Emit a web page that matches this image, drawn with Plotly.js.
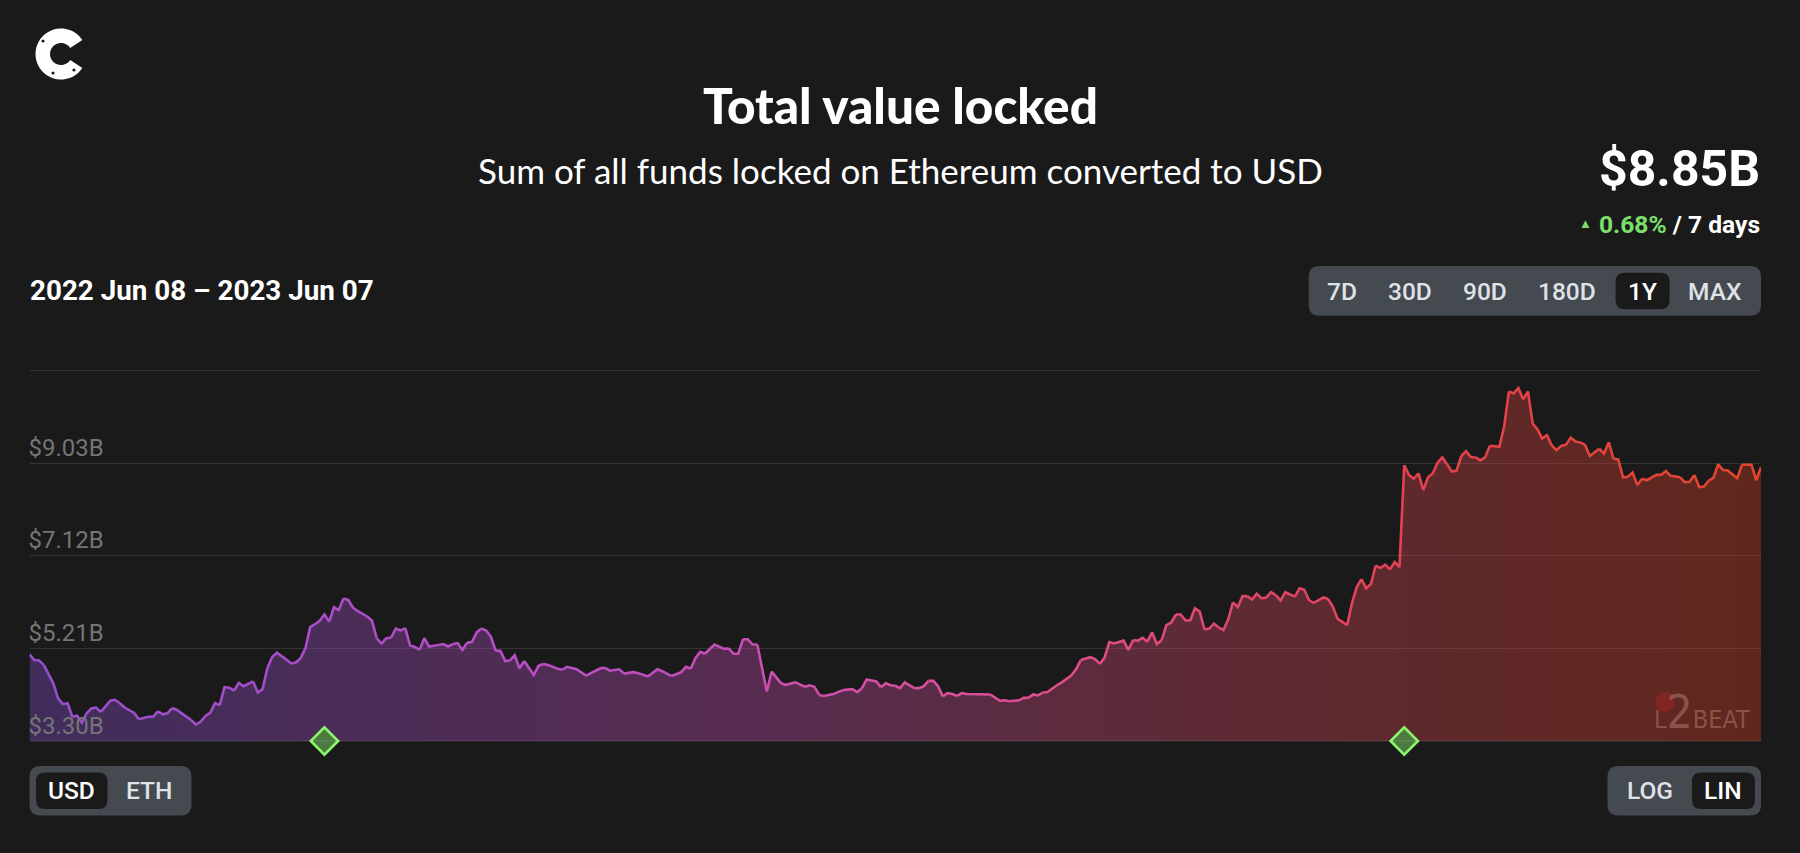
<!DOCTYPE html>
<html>
<head>
<meta charset="utf-8">
<script src="https://cdn.plot.ly/plotly-3.0.1.min.js"></script>
<style>html,body{margin:0;padding:0;background:#1a1a1a;overflow:hidden}#chart{width:1800px;height:853px}</style>
</head>
<body>
<div id="chart"></div>
<script>
// Days since 2022-06-08
const days = [0,1,2,3,4,5,6,7,8,9,10,11,12,13,14,15,17,18,19,20,22,23,25,26,27,28,29,30,31,32,34,35,36,37,38,39,40,41,42,43,44,45,47,48,49,50,51,52,54,55,56,57,58,59,60,61,62,63,64,65,66,67,68,69,71,72,73,74,75,76,77,78,79,80,81,82,83,84,86,87,88,89,90,91,92,93,94,95,96,97,98,99,100,101,102,103,104,106,107,108,109,111,112,113,115,117,119,
120,121,122,124,125,127,128,130,132,133,135,137,138,139,140,141,142,144,146,147,148,149,150,151,152,153,155,156,158,159,161,163,164,165,166,167,169,171,173,174,175,176,178,179,180,181,182,183,184,186,187,188,189,190,191,192,193,194,195,196,197,202,204,205,206,208,209,210,211,212,213,214,216,217,219,220,221,223,224,225,226,227,228,230,231,232,233,234,235,236,237,238,239,240,241,242,243,244,245,246,
247,248,249,250,251,252,253,254,255,256,257,258,259,260,261,262,263,264,266,267,268,269,270,272,273,274,275,277,278,279,280,281,282,283,284,285,286,287,288,289,290,291,292,293,294,295,296,297,298,299,300,301,302,303,304,305,306,307,309,310,311,312,313,314,315,316,317,318,319,320,321,322,323,324,325,326,327,328,330,331,332,333,334,335,336,337,338,339,340,342,343,344,345,347,348,349,350,351,352,353,354,355,356,357,359,360,362,363,364];
// Total value locked, $B
const tvl = [5.09,4.97,4.96,4.87,4.68,4.49,4.18,4.06,4.08,3.80,3.82,3.68,3.87,3.97,3.99,3.90,4.13,4.15,4.08,3.99,3.88,3.75,3.80,3.80,3.91,3.85,3.87,3.98,3.94,3.87,3.73,3.64,3.70,3.82,3.88,4.08,4.04,4.41,4.40,4.34,4.50,4.43,4.53,4.30,4.37,4.80,5.03,5.12,4.98,4.90,4.92,5.01,5.21,5.65,5.71,5.78,5.91,5.76,6.06,6.00,6.24,6.21,6.05,5.98,5.87,5.78,5.42,5.31,5.42,5.43,5.62,5.58,5.63,5.27,5.24,5.18,5.42,5.25,5.28,5.30,5.25,5.30,5.32,5.18,5.33,5.34,5.54,5.62,5.58,5.45,5.16,5.16,4.95,4.96,5.07,4.80,4.95,4.66,4.85,4.89,4.87,4.79,4.77,4.83,4.78,4.65,4.76,
4.80,4.81,4.75,4.78,4.69,4.72,4.70,4.63,4.78,4.74,4.64,4.72,4.83,4.79,5.01,5.14,5.10,5.29,5.20,5.21,5.10,5.10,5.40,5.40,5.29,5.29,4.32,4.73,4.49,4.46,4.51,4.42,4.45,4.42,4.25,4.23,4.27,4.35,4.37,4.31,4.39,4.57,4.53,4.41,4.49,4.45,4.44,4.39,4.51,4.39,4.39,4.43,4.54,4.54,4.43,4.22,4.29,4.27,4.23,4.29,4.27,4.26,4.13,4.14,4.12,4.14,4.19,4.19,4.26,4.24,4.30,4.31,4.45,4.51,4.65,4.78,4.97,5.03,4.99,4.89,5.02,5.34,5.31,5.37,5.18,5.38,5.37,5.43,5.35,5.54,5.30,5.38,5.69,5.74,5.91,5.91,5.79,5.78,6.04,5.97,
5.60,5.62,5.72,5.64,5.59,5.81,6.16,6.06,6.29,6.29,6.22,6.34,6.24,6.26,6.37,6.31,6.20,6.37,6.28,6.45,6.42,6.20,6.15,6.26,6.23,6.07,5.82,5.69,6.14,6.47,6.64,6.45,6.54,6.92,6.87,6.94,6.84,6.99,6.89,8.99,8.79,8.71,8.82,8.48,8.74,8.82,9.04,9.15,9.01,8.86,8.88,9.18,9.28,9.16,9.15,9.09,9.15,9.39,9.37,9.79,10.51,10.47,10.58,10.35,10.51,9.85,9.73,9.54,9.61,9.40,9.30,9.39,9.41,9.56,9.48,9.46,9.41,9.18,9.33,9.23,9.46,9.12,9.11,8.74,8.75,8.84,8.58,8.71,8.68,8.79,8.79,8.87,8.77,8.74,8.64,8.65,8.79,8.54,8.55,8.67,8.73,9.01,8.89,8.88,8.72,9.00,9.00,8.68,8.95];
const tickVals = [3.30,5.21,7.12,9.03,10.94];
const tickText = ['$3.30B','$5.21B','$7.12B','$9.03B','$10.94B'];
const eventDays = [62,289];
const rangeLabels = ['7D','30D','90D','180D','1Y','MAX'];
const unitLabels = ['USD','ETH'];
const scaleLabels = ['LOG','LIN'];
const yMax = 11.2;

const W = 1800, H = 853;
const px = x => x / W, py = y => 1 - y / H;
const BG = '#1a1a1a';
const toDate = d => new Date(Date.UTC(2022, 5, 8 + d)).toISOString().slice(0, 10);
const xs = days.map(toDate);
const yBase = 741, yTick = 370.7;
const yTop = yBase - (yMax - tickVals[0]) * (yBase - yTick) / (tickVals[4] - tickVals[0]);

// line colour runs along the year
const lineStops = [[0,[150,78,205]],[0.33,[190,78,195]],[0.55,[220,80,150]],[0.8,[226,66,80]],[1,[226,70,42]]];
function lineColor(t){
  for(let i=1;i<lineStops.length;i++){
    if(t<=lineStops[i][0]){
      const a=lineStops[i-1],b=lineStops[i],f=(t-a[0])/(b[0]-a[0]);
      return 'rgb('+a[1].map((c,k)=>Math.round(c+(b[1][k]-c)*f)).join(',')+')';
    }
  }
  return 'rgb(226,70,42)';
}

const traces = [{
  type:'scatter', mode:'lines', x:xs, y:tvl, fill:'tozeroy', line:{width:0},
  fillgradient:{type:'horizontal',colorscale:[
    [0,'rgba(143,83,226,0.33)'],[0.4,'rgba(209,80,195,0.33)'],[0.68,'rgba(232,75,109,0.33)'],[1,'rgba(237,66,32,0.33)']]},
  hoverinfo:'skip', showlegend:false
}];
const STEP = 3;
for(let i=0;i<days.length-1;i+=STEP){
  const j=Math.min(i+STEP,days.length-1);
  traces.push({type:'scatter',mode:'lines',x:xs.slice(i,j+1),y:tvl.slice(i,j+1),
    line:{width:2.6,color:lineColor(days[i]/364)},showlegend:false,hoverinfo:'skip'});
}
traces.push({type:'scatter',mode:'markers',x:eventDays.map(toDate),y:eventDays.map(()=>tickVals[0]),cliponaxis:false,
  marker:{symbol:'diamond',size:21,color:'#4c7a3f',line:{color:'#8af56c',width:2.6}},showlegend:false,hoverinfo:'skip'});

function rrect(x0,y0,x1,y1,r,fill){
  const p=(x,y)=>px(x)+','+py(y);
  return {type:'path',xref:'paper',yref:'paper',layer:'above',fillcolor:fill,line:{width:0},
    path:'M'+p(x0+r,y0)+' L'+p(x1-r,y0)+' Q'+p(x1,y0)+' '+p(x1,y0+r)+' L'+p(x1,y1-r)+' Q'+p(x1,y1)+' '+p(x1-r,y1)+
      ' L'+p(x0+r,y1)+' Q'+p(x0,y1)+' '+p(x0,y1-r)+' L'+p(x0,y0+r)+' Q'+p(x0,y0)+' '+p(x0+r,y0)+' Z'};
}
// logo: thick open ring
function logoPath(cx,cy,ro,ri,a0,a1){
  const pts=[];
  for(let i=0;i<=40;i++){const a=a0+(a1-a0)*i/40;pts.push(px(cx+ro*Math.cos(a))+','+py(cy-ro*Math.sin(a)));}
  for(let i=40;i>=0;i--){const a=a0+(a1-a0)*i/40;pts.push(px(cx+ri*Math.cos(a))+','+py(cy-ri*Math.sin(a)));}
  return 'M'+pts.join(' L')+' Z';
}
function dot(cx,cy,r,fill){
  return {type:'circle',xref:'paper',yref:'paper',layer:'above',fillcolor:fill,line:{width:0},
    x0:px(cx-r),x1:px(cx+r),y0:py(cy+r),y1:py(cy-r)};
}
const shapes=[
  {type:'line',xref:'paper',yref:'paper',layer:'above',x0:px(29.5),x1:px(1761),y0:py(741),y1:py(741),line:{color:'rgba(255,255,255,0.14)',width:1}},
  {type:'path',xref:'paper',yref:'paper',layer:'above',fillcolor:'#fff',line:{width:0},path:logoPath(61,54,25.5,11,0.58,2*Math.PI-0.58)},
  dot(43,41,1.6,BG),dot(53,73,1.6,BG),dot(74,70,1.6,BG),
  rrect(1308.7,266,1761,315.7,11,'#454a51'),
  rrect(1615.6,272.7,1669.6,309.3,9,BG),
  rrect(29.5,766,191.5,815.5,11,'#454a51'),
  rrect(36,772.5,107.5,809,9,BG),
  rrect(1607.5,766,1761,815.5,11,'#454a51'),
  rrect(1692,772.5,1755,809,9,BG),
  dot(1665,702,10,'rgba(190,35,40,0.35)')
];

function T(text,x,y,anchor,size,color,family,weight){
  return {text:text,xref:'paper',yref:'paper',x:px(x),y:py(y),xanchor:anchor,yanchor:'middle',showarrow:false,
    font:{size:size,color:color,family:family,weight:weight||400},borderpad:0,align:anchor};
}
const R='Roboto', L='Lato';
const rangeX=[1341.6,1409.7,1485,1567,1642,1714.7];
const annotations=[
  T('Total value locked',900,105.5,'center',49.5,'#fff',L,900),
  T('Sum of all funds locked on Ethereum converted to USD',900,170,'center',35,'#fff',L,400),
  T('$8.85B',1761,169,'right',50,'#fff',R,700),
  T('▲',1585,223,'center',13,'#7be06b',R,700),
  T('<span style="color:#7be06b">0.68%</span> / 7 days',1761,224,'right',24.6,'#fff',R,700),
  T('2022 Jun 08 – 2023 Jun 07',29,290,'left',27.8,'#fff',R,700),
  T('L<span style="font-size:46px">2</span>BEAT',1702,712,'center',25,'rgba(255,215,205,0.26)','DejaVu Sans Condensed, Roboto',400)
];
rangeLabels.forEach((s,i)=>annotations.push(T(s,rangeX[i],291.7,'center',24.5,i===4?'#fff':'#dfe2e6',R,500)));
[71,149].forEach((x,i)=>annotations.push(T(unitLabels[i],x,790.5,'center',24.5,i===0?'#fff':'#dfe2e6',R,500)));
[1650,1722.6].forEach((x,i)=>annotations.push(T(scaleLabels[i],x,790.5,'center',24.5,i===1?'#fff':'#dfe2e6',R,500)));

const layout={
  width:W,height:H,margin:{l:0,r:0,t:0,b:0,pad:0},paper_bgcolor:BG,plot_bgcolor:BG,showlegend:false,
  font:{family:R},
  xaxis:{type:'date',domain:[px(29.5),px(1761)],range:[toDate(0),toDate(364)],visible:false,fixedrange:true},
  yaxis:{domain:[py(yBase),py(yTop)],range:[tickVals[0],yMax],tickmode:'array',tickvals:tickVals,ticktext:tickText,
    ticklabelposition:'inside top',ticklabelstandoff:-4,ticklabelshift:1,ticks:'',showline:false,zeroline:false,gridcolor:'#343434',gridwidth:1.2,
    tickfont:{family:R,size:24,color:'#757575'},fixedrange:true},
  shapes:shapes,annotations:annotations
};
Plotly.newPlot('chart',traces,layout,{displayModeBar:false,staticPlot:true});
</script>
</body>
</html>
